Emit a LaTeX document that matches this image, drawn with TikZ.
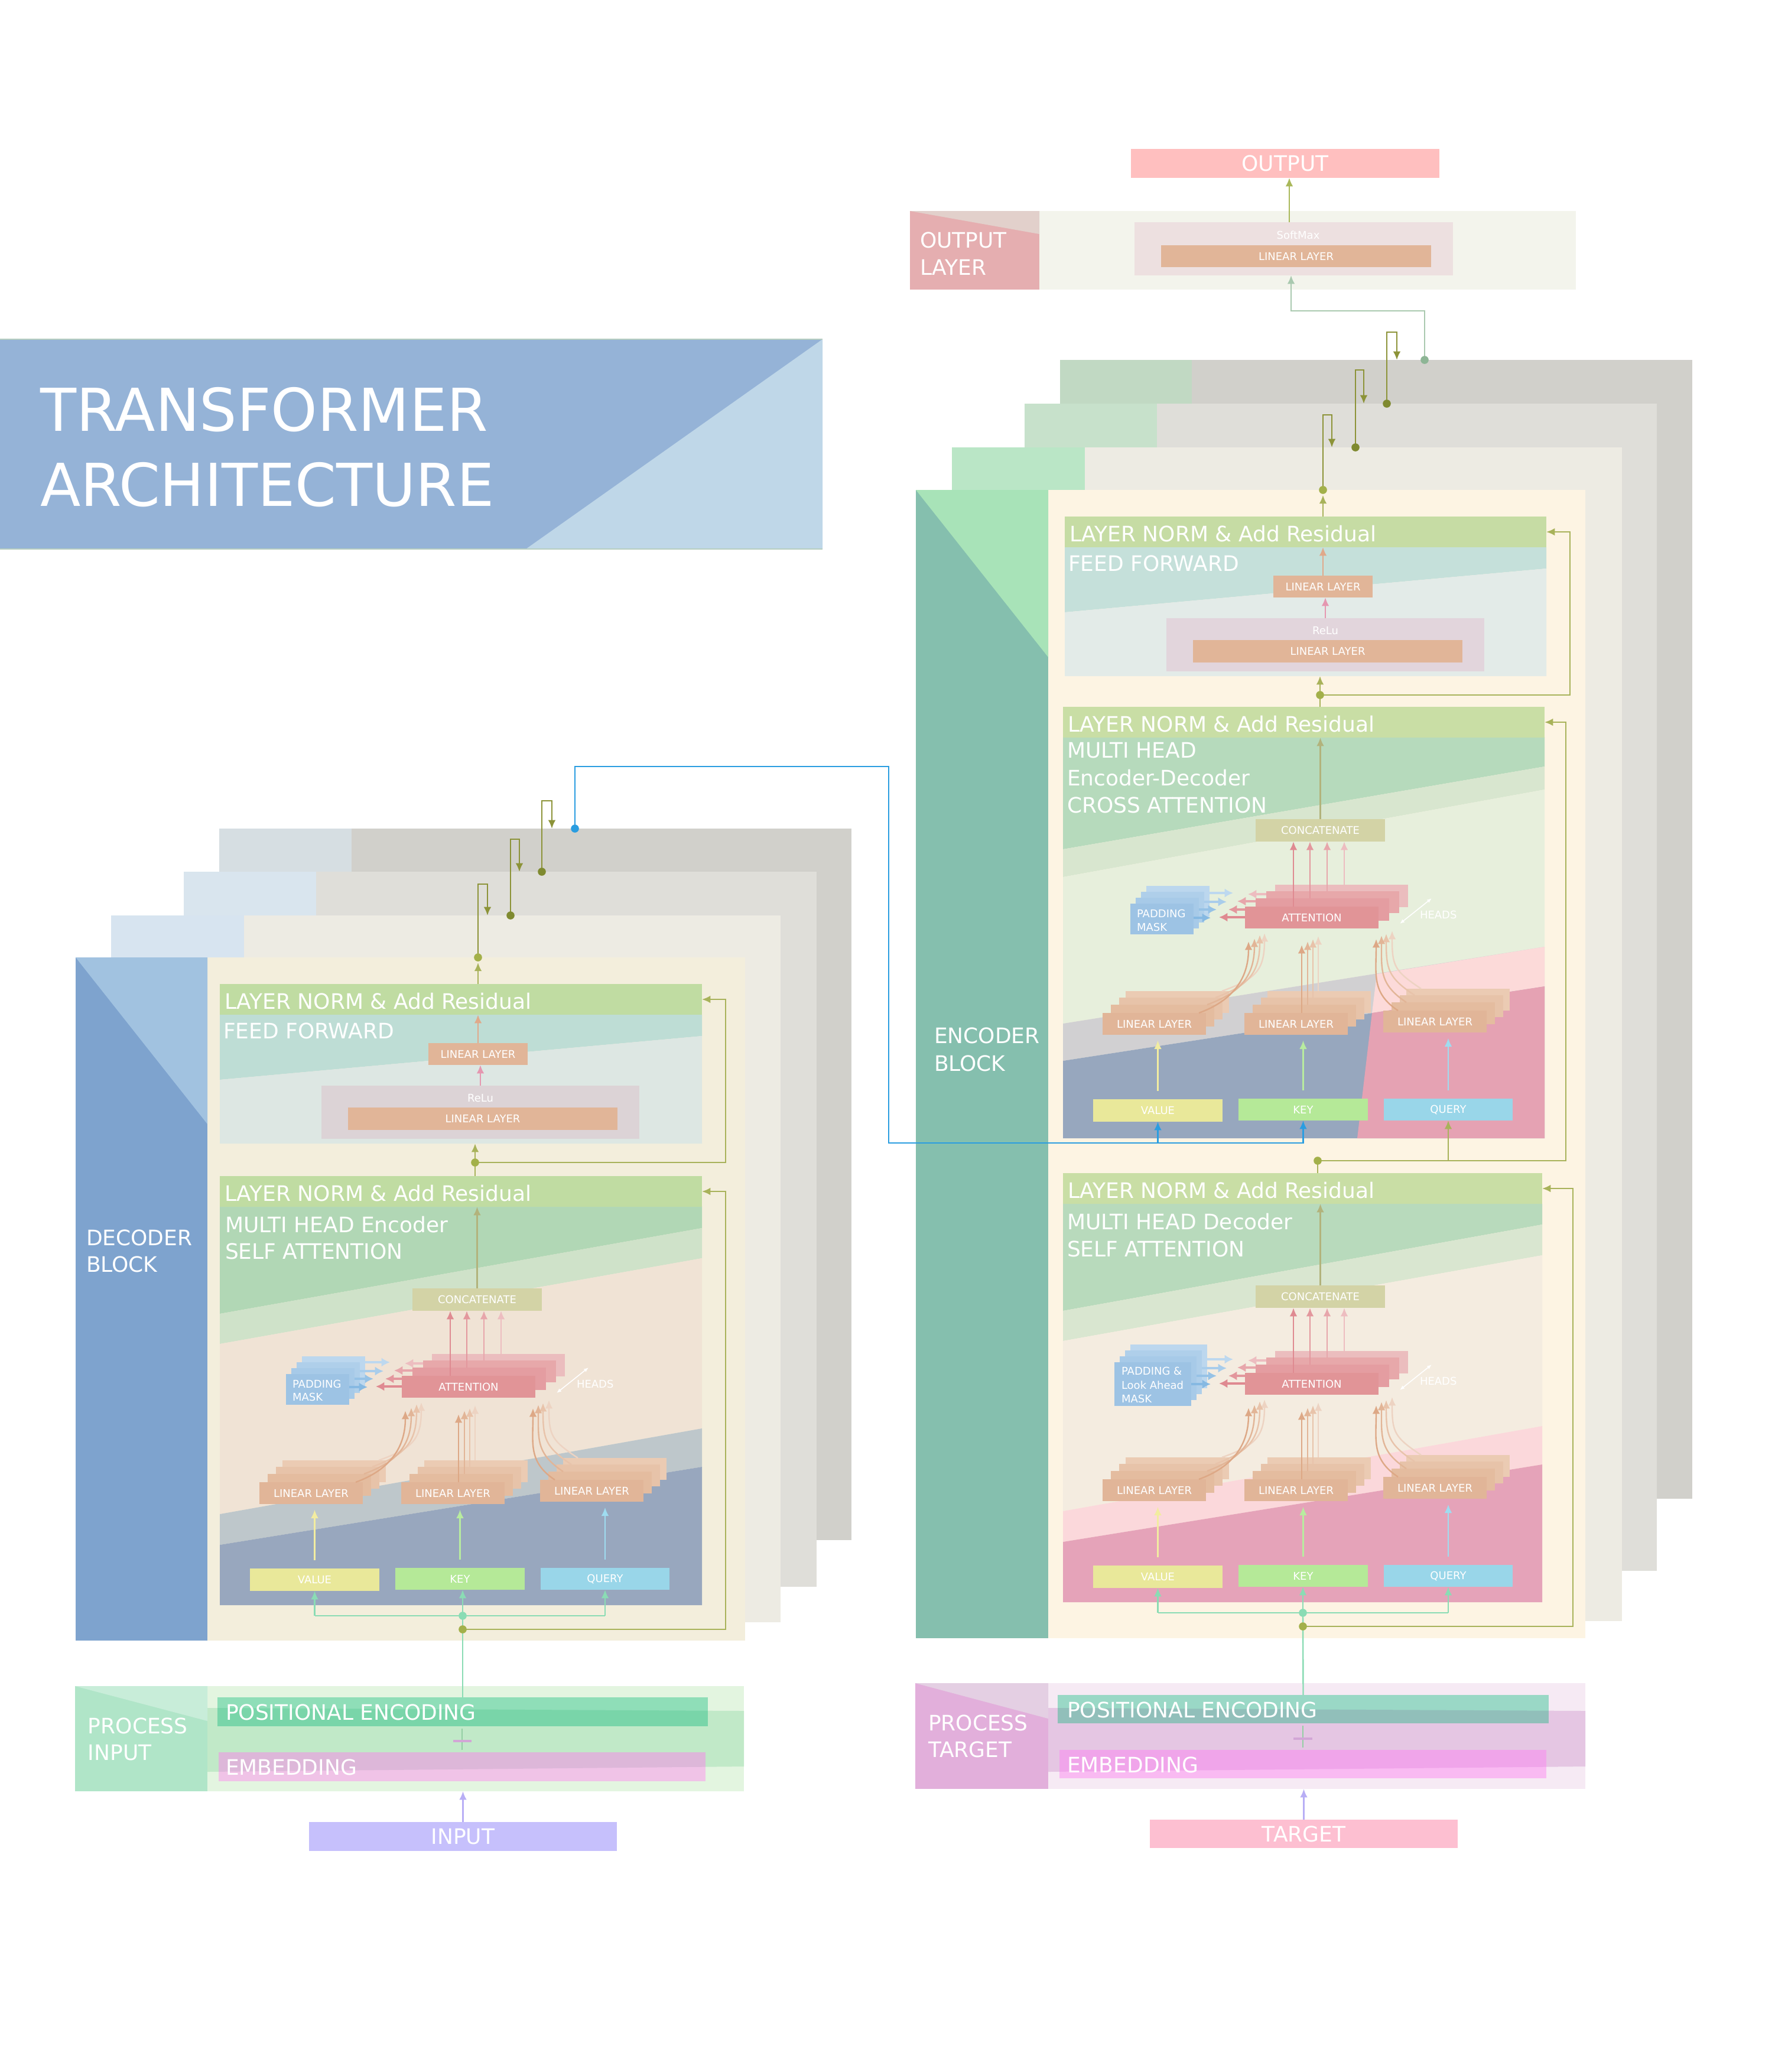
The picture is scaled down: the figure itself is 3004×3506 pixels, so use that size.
\documentclass[tikz,border=0pt]{standalone}
\usepackage{fontspec}
\setmainfont{DejaVu Sans}
\usetikzlibrary{arrows.meta}
\newcommand\pxu{0.25pt}
\newcommand\fbig{\fontsize{9}{11}\selectfont}
\newcommand\fsmall{\fontsize{4.5}{5.5}\selectfont}
\newcommand\ftitle{\fontsize{25}{30}\selectfont}
% colours
\definecolor{ctitleD}{HTML}{95B3D7}\definecolor{ctitleL}{HTML}{BFD7E8}\definecolor{ctitleLn}{HTML}{B7CEC0}
\definecolor{cout}{HTML}{FFBFBF}\definecolor{colbg}{HTML}{F3F4EC}\definecolor{colpk}{HTML}{E5AEB0}
\definecolor{colpkL}{HTML}{E2D0CB}\definecolor{csoft}{HTML}{EDE0E0}
\definecolor{clin0}{HTML}{E1B598}\definecolor{clin1}{HTML}{E4BC9F}\definecolor{clin2}{HTML}{E7C3A9}\definecolor{clin3}{HTML}{EBCBB3}
\definecolor{carr0}{HTML}{DDA886}\definecolor{carr1}{HTML}{E2B597}\definecolor{carr2}{HTML}{E8C3AA}\definecolor{carr3}{HTML}{EDD3C2}
\definecolor{catt0}{HTML}{E19497}\definecolor{catt1}{HTML}{E49DA1}\definecolor{catt2}{HTML}{E7A8AA}\definecolor{catt3}{HTML}{EBBDBE}
\definecolor{cra0}{HTML}{DF8A91}\definecolor{cra1}{HTML}{E3979D}\definecolor{cra2}{HTML}{E7A6AB}\definecolor{cra3}{HTML}{EDBDC0}
\definecolor{cmask0}{HTML}{9DC3E4}\definecolor{cmask1}{HTML}{A7CAE8}\definecolor{cmask2}{HTML}{AFCFEA}\definecolor{cmask3}{HTML}{BCD7EE}
\definecolor{cbl0}{HTML}{86B9E2}\definecolor{cbl1}{HTML}{96C2E6}\definecolor{cbl2}{HTML}{A9CDEB}\definecolor{cbl3}{HTML}{BDD8EF}
\definecolor{cval}{HTML}{E9E89A}\definecolor{ckey}{HTML}{B5E998}\definecolor{cqry}{HTML}{99D6E9}
\definecolor{cvalA}{HTML}{F2ECA0}\definecolor{ckeyA}{HTML}{B8EC9F}\definecolor{cqryA}{HTML}{9FDCF0}
\definecolor{cconcat}{HTML}{D3D3A6}\definecolor{cconA}{HTML}{B2B37C}\definecolor{cffo}{HTML}{E0A98A}\definecolor{cffp}{HTML}{E597B0}
\definecolor{ceLia}{HTML}{C1D9C3}\definecolor{ceLib}{HTML}{D1D0CB}\definecolor{ceLiia}{HTML}{C7E1CB}\definecolor{ceLiib}{HTML}{DFDED9}
\definecolor{ceLiiia}{HTML}{BAE6C6}\definecolor{ceLiiib}{HTML}{EDEBE3}\definecolor{ceteal}{HTML}{85BFAE}\definecolor{cetri}{HTML}{A8E3B8}
\definecolor{cecream}{HTML}{FDF4E3}
\definecolor{cdLia}{HTML}{D6DEE2}\definecolor{cdLib}{HTML}{D1D0CB}\definecolor{cdLiia}{HTML}{D9E5EE}\definecolor{cdLiib}{HTML}{DFDED9}
\definecolor{cdLiiia}{HTML}{D7E4F0}\definecolor{cdLiiib}{HTML}{EDEBE3}\definecolor{cdblue}{HTML}{7EA3CE}\definecolor{cdtri}{HTML}{A1C2E0}
\definecolor{cdcream}{HTML}{F3EEDC}
\definecolor{clnE}{HTML}{C6DCA4}\definecolor{clnEb}{HTML}{C9DEA5}\definecolor{clnD}{HTML}{C0DCA2}
\definecolor{ceffU}{HTML}{C5E0DA}\definecolor{ceffL}{HTML}{E3EBE8}\definecolor{ceRelu}{HTML}{E2D5DC}
\definecolor{cdffU}{HTML}{BEDDD5}\definecolor{cdffL}{HTML}{DDE7E3}\definecolor{cdRelu}{HTML}{DCD3D6}
\definecolor{ceig}{HTML}{B6DABC}\definecolor{ceil}{HTML}{D8E6CF}\definecolor{ceiw}{HTML}{E7EFDC}\definecolor{ceigrey}{HTML}{D1D0D2}
\definecolor{ceiblue}{HTML}{97A7BE}\definecolor{ceipl}{HTML}{FCDAD9}\definecolor{ceipd}{HTML}{E5A2B3}
\definecolor{ceiig}{HTML}{B8DABC}\definecolor{ceiil}{HTML}{D9E6D0}\definecolor{ceiib}{HTML}{F4ECE0}\definecolor{ceiipl}{HTML}{FBD8DB}
\definecolor{ceiipd}{HTML}{E5A3B9}
\definecolor{cdg}{HTML}{B1D7B5}\definecolor{cdl}{HTML}{CFE2C9}\definecolor{cdb}{HTML}{F0E3D5}\definecolor{cdgrey}{HTML}{BEC7CB}
\definecolor{cdbl}{HTML}{98A7BE}
\definecolor{colive}{HTML}{A8B25A}\definecolor{coliveDot}{HTML}{A3B04A}\definecolor{colD}{HTML}{8C9338}\definecolor{colDdot}{HTML}{7F8A30}
\definecolor{cgreen}{HTML}{8ADCB4}\definecolor{cblue}{HTML}{2A9DE0}\definecolor{clav}{HTML}{B8AEF5}\definecolor{cgreyL}{HTML}{A9C9AF}
\definecolor{cgreyDot}{HTML}{8DB595}\definecolor{coutA}{HTML}{A9B85A}
\definecolor{cpiBg}{HTML}{E3F5E0}\definecolor{cpiBand}{HTML}{C1E9C8}\definecolor{cpiPanel}{HTML}{B0E5C8}\definecolor{cpiTri}{HTML}{C8EDD9}
\definecolor{cpiPEo}{HTML}{8FDEB8}\definecolor{cpiPEi}{HTML}{79D5A9}\definecolor{cpiEMo}{HTML}{F0C3E7}\definecolor{cpiEMi}{HTML}{DDB7D9}
\definecolor{cinput}{HTML}{C6C0FC}
\definecolor{cptBg}{HTML}{F6EAF4}\definecolor{cptBand}{HTML}{E5C6E3}\definecolor{cptPanel}{HTML}{E2AFDB}\definecolor{cptTri}{HTML}{E4CFE3}
\definecolor{cptPEo}{HTML}{9AD8C6}\definecolor{cptPEi}{HTML}{91BFBA}\definecolor{cptEMo}{HTML}{F9BAF2}\definecolor{cptEMi}{HTML}{F0A5EA}
\definecolor{ctarget}{HTML}{FDBFD1}
\definecolor{cplusG}{HTML}{93CFA3}\definecolor{cplusP}{HTML}{D2A6D6}

\tikzset{
  rb/.style={draw=none,inner sep=0pt,outer sep=0pt,text=white},
  txt/.style={inner sep=0pt,outer sep=0pt,text=white,anchor=base west},
  lnk/.style={line width=0.6pt},
  conn/.style={line width=0.6pt,-{Latex[length=3.6pt,width=3.2pt]}},
  mk/.style={line width=1.1pt,-{Latex[length=3.6pt,width=3.8pt]}},
}

% box from corners: [font]{name}{fill}{x1}{y1}{x2}{y2}{text}
\newcommand\rbx[8][\fsmall]{\node[rb,fill=#3,font=#1,minimum width={((#6)-(#4))*\pxu},minimum height={((#7)-(#5))*\pxu}] (#2) at ({((#4)+(#6))/2},{((#5)+(#7))/2}) {#8};}

\newcommand\maskstack[5]{%
  \foreach \i/\yy/\tx in {3/315/288,2/330/277,1/343/260,0/357/250}{%
    \pgfmathsetmacro\mxa{#2+9*\i}%
    \pgfmathsetmacro\mya{#3-10*\i}%
    \rbx{#1mk\i}{cmask\i}{\mxa}{\mya}{\mxa+#4}{\mya+#5}{}%
    \coordinate (#1mb\i) at (\mxa+#4,\yy);%
    \coordinate (#1mt\i) at (\tx,\yy);%
    \draw[mk,draw=cbl\i] (#1mb\i) -- (#1mt\i);%
  }}

\newcommand\attncore[3]{%
  \rbx{#1ln}{#3}{0}{0}{#2}{52}{}
  \node[txt,font=\fbig] (#1lnt) at (8,42) {LAYER NORM \& Add Residual};
  \rbx{#1cc}{cconcat}{326}{190}{545}{228}{CONCATENATE}
  \draw[conn,draw=cconA] (#1cc.north) -- (#1cc.north |- #1ln.south);
  \foreach \i/\xa/\ya/\xb/\yb/\ux/\ry/\rt in {3/359/301/584/339/476/317/313,2/344/312/569/349/447/329/295,1/326/324/552/362/418/343/280,0/308/338/534/375/390/356/264}{%
    \rbx{#1at\i}{catt\i}{\xa}{\ya}{\xb}{\yb}{}
    \coordinate (#1au\i) at (\ux,\ya);
    \draw[conn,draw=cra\i] (#1au\i) -- (#1au\i |- #1cc.south);
    \coordinate (#1ar\i) at (\xa,\ry);
    \coordinate (#1arT\i) at (\rt,\ry);
    \draw[mk,draw=cra\i] (#1ar\i) -- (#1arT\i);
  }
  \node[rb,font=\fsmall] (#1att) at (#1at0) {ATTENTION};
  \foreach \i/\dx/\dy/\lx/\ly/\mx/\my/\qx/\qy in {3/39/37/341/383/432/388/557/379,2/28/26/333/386/423/393/547/384,1/14/14/324/392/414/397/539/387,0/0/0/314/397/404/403/530/393}{%
    \rbx{#1lv\i}{clin\i}{67+\dx}{518-\dy}{242+\dx}{555-\dy}{}
    \rbx{#1lk\i}{clin\i}{307+\dx}{518-\dy}{482+\dx}{555-\dy}{}
    \rbx{#1lq\i}{clin\i}{542+\dx}{514-\dy}{717+\dx}{551-\dy}{}
    \coordinate (#1cv\i) at (230+\dx,518-\dy);
    \coordinate (#1cvT\i) at (\lx,\ly);
    \draw[conn,draw=carr\i] (#1cv\i) .. controls +(55,-20) and +(0,65) .. (#1cvT\i);
    \coordinate (#1ck\i) at (\mx,518-\dy);
    \coordinate (#1ckT\i) at (\mx,\my);
    \draw[conn,draw=carr\i] (#1ck\i) -- (#1ckT\i);
    \coordinate (#1cq\i) at (567+\dx,514-\dy);
    \coordinate (#1cqT\i) at (\qx,\qy);
    \draw[conn,draw=carr\i] (#1cq\i) .. controls +(-45,-30) and +(0,60) .. (#1cqT\i);
  }
  \node[rb,font=\fsmall] (#1lvt) at (#1lv0) {LINEAR LAYER};
  \node[rb,font=\fsmall] (#1lkt) at (#1lk0) {LINEAR LAYER};
  \node[rb,font=\fsmall] (#1lqt) at (#1lq0) {LINEAR LAYER};
  \rbx{#1v}{cval}{51}{664}{270}{702}{VALUE}
  \rbx{#1k}{ckey}{297}{663}{516}{700}{KEY}
  \rbx{#1q}{cqry}{543}{663}{761}{700}{QUERY}
  \draw[conn,draw=cvalA,shorten <=3.5pt,shorten >=2.4pt] (#1v.north) -- (#1v.north |- #1lv0.south);
  \draw[conn,draw=ckeyA,shorten <=3.5pt,shorten >=2.4pt] (#1k.north) -- (#1k.north |- #1lk0.south);
  \draw[conn,draw=cqryA,shorten <=3.5pt,shorten >=2.4pt] (#1q.north) -- (#1q.north |- #1lq0.south);
  \coordinate (#1hA) at (570,367);
  \coordinate (#1hB) at (624,324);
  \draw[white,line width=0.4pt,{Latex[length=2pt,width=1.6pt]}-{Latex[length=2pt,width=1.6pt]}] (#1hA) -- (#1hB);
  \node[txt,font=\fsmall,anchor=west] (#1hd) at (604,352) {HEADS};
}

\newcommand\ffcore[6]{%
  \fill[#4] (0,52) -- (#2,52) -- (#2,88) -- (0,162) -- cycle;
  \fill[#5] (0,162) -- (#2,88) -- (#2,270) -- (0,270) -- cycle;
  \rbx{#1ln}{#3}{0}{0}{#2}{52}{}
  \node[txt,font=\fbig] (#1lnt) at (8,42) {LAYER NORM \& Add Residual};
  \node[txt,font=\fbig] (#1fft) at (6,92) {FEED FORWARD};
  \rbx{#1lb}{clin0}{353}{100}{521}{137}{LINEAR LAYER}
  \rbx{#1re}{#6}{172}{172}{710}{262}{}
  \node[rb,font=\fsmall] (#1ret) at (441,193) {ReLu};
  \rbx{#1la}{clin0}{217}{209}{673}{247}{LINEAR LAYER}
  \draw[conn,draw=cffo] (#1lb.north) -- (#1lb.north |- #1ln.south);
  \draw[conn,draw=cffp] (#1re.north) -- (#1re.north |- #1lb.south);
  \coordinate (#1bot) at (436,270);
}

\begin{document}
\begin{tikzpicture}[x=0.25pt,y=-0.25pt]
\useasboundingbox (0,0) rectangle (3004,3506);
\fill[white] (0,0) rectangle (3004,3506);

% ---------------- title
\rbx{titlebox}{ctitleD}{0}{574}{1392}{929}{}
\fill[ctitleL] (1392,574) -- (1392,929) -- (890,929) -- cycle;
\draw[ctitleLn,line width=0.5pt] (0,574) -- (1392,574) (0,929) -- (1392,929);
\node[txt,font=\ftitle] (titleA) at (68,729) {TRANSFORMER};
\node[txt,font=\ftitle] (titleB) at (68,856) {ARCHITECTURE};

% ---------------- output layer
\rbx{olbg}{colbg}{1540}{357}{2667}{490}{}
\rbx{olpanel}{colpk}{1540}{357}{1759}{490}{}
\fill[colpkL] (1540,357) -- (1759,357) -- (1759,396) -- cycle;
\node[txt,font=\fbig] (olA) at (1557,419) {OUTPUT};
\node[txt,font=\fbig] (olB) at (1557,465) {LAYER};
\rbx{soft}{csoft}{1920}{376}{2459}{466}{}
\node[rb,font=\fsmall] (softt) at (2197,398) {SoftMax};
\rbx{olin}{clin0}{1965}{415}{2422}{452}{LINEAR LAYER}
\rbx[\fbig]{outb}{cout}{1914}{252}{2436}{301}{OUTPUT}
\coordinate (oa) at (2182,376);
\draw[conn,draw=coutA] (oa) -- (oa |- outb.south);

% ---------------- encoder stack
\rbx{eLi}{ceLib}{1794}{609}{2864}{2536}{}
\rbx{eLil}{ceLia}{1794}{609}{2017}{2536}{}
\rbx{eLii}{ceLiib}{1734}{683}{2804}{2658}{}
\rbx{eLiil}{ceLiia}{1734}{683}{1958}{2658}{}
\rbx{eLiii}{ceLiiib}{1611}{757}{2745}{2743}{}
\rbx{eLiiil}{ceLiiia}{1611}{757}{1836}{2743}{}
\rbx{eF}{cecream}{1550}{829}{2683}{2772}{}
\rbx{eFl}{ceteal}{1550}{829}{1774}{2772}{}
\fill[cetri] (1550,829) -- (1774,829) -- (1774,1112) -- cycle;
\node[txt,font=\fbig] (encA) at (1581,1765) {ENCODER};
\node[txt,font=\fbig] (encB) at (1581,1812) {BLOCK};

\begin{scope}[shift={(1802,874)}]
  \ffcore{eff}{815}{clnE}{ceffU}{ceffL}{ceRelu}
\end{scope}

% cross attention bands
\fill[ceig] (1799,1247) -- (2614,1247) -- (2614,1297) -- (1799,1437) -- cycle;
\fill[ceil] (1799,1437) -- (2614,1297) -- (2614,1336) -- (1799,1484) -- cycle;
\fill[ceiw] (1799,1484) -- (2614,1336) -- (2614,1602) -- (1799,1732) -- cycle;
\fill[ceigrey] (1799,1732) -- (2614,1602) -- (2614,1669) -- (1799,1795) -- cycle;
\fill[ceiblue] (1799,1795) -- (2614,1669) -- (2614,1926) -- (1799,1926) -- cycle;
\fill[ceipl] (2330,1648) -- (2614,1602) -- (2614,1669) -- (2322,1714) -- cycle;
\fill[ceipd] (2322,1714) -- (2614,1669) -- (2614,1926) -- (2297,1926) -- cycle;
\begin{scope}[shift={(1799,1196)}]
  \attncore{ecr}{815}{clnEb}
  \maskstack{ecr}{114}{333}{107}{52}
  \node[txt,font=\fsmall] (ecrmA) at (125,356) {PADDING};
  \node[txt,font=\fsmall] (ecrmB) at (125,379) {MASK};
  \node[txt,font=\fbig] (ecrhA) at (7,86) {MULTI HEAD};
  \node[txt,font=\fbig] (ecrhB) at (7,133) {Encoder-Decoder};
  \node[txt,font=\fbig] (ecrhC) at (7,179) {CROSS ATTENTION};
\end{scope}

% encoder self attention bands
\fill[ceiig] (1799,2037) -- (2610,2037) -- (2610,2072) -- (1799,2218) -- cycle;
\fill[ceiil] (1799,2218) -- (2610,2072) -- (2610,2124) -- (1799,2269) -- cycle;
\fill[ceiib] (1799,2269) -- (2610,2124) -- (2610,2413) -- (1799,2557) -- cycle;
\fill[ceiipl] (1799,2557) -- (2610,2413) -- (2610,2478) -- (1799,2609) -- cycle;
\fill[ceiipd] (1799,2609) -- (2610,2478) -- (2610,2711) -- (1799,2711) -- cycle;
\begin{scope}[shift={(1799,1985)}]
  \attncore{esa}{811}{clnEb}
  \maskstack{esa}{87}{320}{130}{74}
  \node[txt,font=\fsmall] (esamA) at (99,341) {PADDING \&};
  \node[txt,font=\fsmall] (esamB) at (99,365) {Look Ahead};
  \node[txt,font=\fsmall] (esamC) at (99,388) {MASK};
  \node[txt,font=\fbig] (esahA) at (7,95) {MULTI HEAD Decoder};
  \node[txt,font=\fbig] (esahB) at (7,141) {SELF ATTENTION};
\end{scope}

% ---------------- decoder stack
\rbx{dLi}{cdLib}{371}{1402}{1441}{2606}{}
\rbx{dLil}{cdLia}{371}{1402}{595}{2606}{}
\rbx{dLii}{cdLiib}{311}{1475}{1382}{2685}{}
\rbx{dLiil}{cdLiia}{311}{1475}{535}{2685}{}
\rbx{dLiii}{cdLiiib}{188}{1549}{1321}{2745}{}
\rbx{dLiiil}{cdLiiia}{188}{1549}{413}{2745}{}
\rbx{dF}{cdcream}{128}{1620}{1261}{2776}{}
\rbx{dFl}{cdblue}{128}{1620}{351}{2776}{}
\fill[cdtri] (128,1620) -- (351,1620) -- (351,1902) -- cycle;
\node[txt,font=\fbig] (decA) at (146,2107) {DECODER};
\node[txt,font=\fbig] (decB) at (146,2152) {BLOCK};

\begin{scope}[shift={(372,1665)}]
  \ffcore{dff}{816}{clnD}{cdffU}{cdffL}{cdRelu}
\end{scope}

\fill[cdg] (372,2041) -- (1188,2041) -- (1188,2078) -- (372,2223) -- cycle;
\fill[cdl] (372,2223) -- (1188,2078) -- (1188,2129) -- (372,2274) -- cycle;
\fill[cdb] (372,2274) -- (1188,2129) -- (1188,2417) -- (372,2562) -- cycle;
\fill[cdgrey] (372,2562) -- (1188,2417) -- (1188,2482) -- (372,2614) -- cycle;
\fill[cdbl] (372,2614) -- (1188,2482) -- (1188,2716) -- (372,2716) -- cycle;
\begin{scope}[shift={(372,1990)}]
  \attncore{dsa}{816}{clnD}
  \maskstack{dsa}{112}{335}{107}{52}
  \node[txt,font=\fsmall] (dsamA) at (123,358) {PADDING};
  \node[txt,font=\fsmall] (dsamB) at (123,380) {MASK};
  \node[txt,font=\fbig] (dsahA) at (9,95) {MULTI HEAD Encoder};
  \node[txt,font=\fbig] (dsahB) at (9,140) {SELF ATTENTION};
\end{scope}

% ---------------- process input
\rbx{pibg}{cpiBg}{127}{2853}{1259}{3031}{}
\fill[cpiBand] (351,2890) -- (1259,2895) -- (1259,2989) -- (351,2998) -- cycle;
\rbx{pipanel}{cpiPanel}{127}{2853}{351}{3031}{}
\fill[cpiTri] (127,2853) -- (351,2853) -- (351,2912) -- cycle;
\node[txt,font=\fbig] (piA) at (149,2933) {PROCESS};
\node[txt,font=\fbig] (piB) at (149,2978) {INPUT};
\rbx{pipe}{cpiPEo}{368}{2872}{1198}{2921}{}
\rbx{piem}{cpiEMo}{370}{2965}{1194}{3014}{}
\begin{scope}
  \clip (351,2890) -- (1259,2895) -- (1259,2989) -- (351,2998) -- cycle;
  \fill[cpiPEi] (368,2872) rectangle (1198,2921);
  \fill[cpiEMi] (370,2965) rectangle (1194,3014);
\end{scope}
\node[txt,font=\fbig] (pipet) at (382,2910) {POSITIONAL ENCODING};
\node[txt,font=\fbig] (piemt) at (382,3003) {EMBEDDING};
\draw[cplusG,line width=0.5pt,shorten <=1pt,shorten >=1pt] (piem.north -| 782,0) -- (pipe.south -| 782,0);
\draw[cplusP,line width=1pt] (767,2946) -- (798,2946);
\rbx[\fbig]{inb}{cinput}{523}{3083}{1044}{3132}{INPUT}
\draw[conn,draw=clav] (inb.north) -- (inb.north |- pibg.south);

% ---------------- process target
\rbx{ptbg}{cptBg}{1549}{2848}{2683}{3027}{}
\fill[cptBand] (1774,2890) -- (2683,2895) -- (2683,2989) -- (1774,2998) -- cycle;
\rbx{ptpanel}{cptPanel}{1549}{2848}{1774}{3027}{}
\fill[cptTri] (1549,2848) -- (1774,2848) -- (1774,2908) -- cycle;
\node[txt,font=\fbig] (ptA) at (1571,2928) {PROCESS};
\node[txt,font=\fbig] (ptB) at (1571,2973) {TARGET};
\rbx{ptpe}{cptPEo}{1790}{2868}{2621}{2916}{}
\rbx{ptem}{cptEMo}{1793}{2961}{2617}{3009}{}
\begin{scope}
  \clip (1774,2890) -- (2683,2895) -- (2683,2989) -- (1774,2998) -- cycle;
  \fill[cptPEi] (1790,2868) rectangle (2621,2916);
  \fill[cptEMi] (1793,2961) rectangle (2617,3009);
\end{scope}
\node[txt,font=\fbig] (ptpet) at (1806,2906) {POSITIONAL ENCODING};
\node[txt,font=\fbig] (ptemt) at (1806,2999) {EMBEDDING};
\draw[cplusG,line width=0.5pt,shorten <=1pt,shorten >=1pt] (ptem.north -| 2205,0) -- (ptpe.south -| 2205,0);
\draw[cplusP,line width=1pt] (2189,2942) -- (2221,2942);
\rbx[\fbig]{tgb}{ctarget}{1946}{3079}{2467}{3127}{TARGET}
\draw[conn,draw=clav] (tgb.north) -- (tgb.north |- ptbg.south);

% ---------------- connectors: encoder
\coordinate (eti) at (2239,829);
\coordinate (eki) at (2254,702);
\coordinate (etii) at (2294,757);
\coordinate (ekii) at (2308,626);
\coordinate (etiii) at (2347,683);
\coordinate (ekiii) at (2364,562);
\coordinate (etiv) at (2411,609);
\coordinate (ekiv) at (2185,526);
\draw[conn,draw=colive,shorten >=2.2pt] (eti |- effln.north) -- (eti);
\draw[conn,draw=colD] (eti) |- (eki) -- (eki |- eLiii.north);
\draw[conn,draw=colD] (etii) |- (ekii) -- (ekii |- eLii.north);
\draw[conn,draw=colD] (etiii) |- (ekiii) -- (ekiii |- eLi.north);
\draw[conn,draw=cgreyL] (etiv) |- (ekiv) -- (ekiv |- soft.south);

\coordinate (ed) at (2234,1176);
\coordinate (eresA) at (2657,900);
\draw[lnk,draw=colive] (ed |- ecrln.north) -- (ed);
\draw[conn,draw=colive] (ed) -- (ed |- effbot);
\draw[conn,draw=colive] (ed) -| (eresA) -- (eresA -| effln.east);

\coordinate (ec) at (2230,1964);
\coordinate (eresB) at (2650,1222);
\draw[lnk,draw=colive] (ec |- esaln.north) -- (ec);
\draw[conn,draw=colive] (ec) -| (ecrq.south);
\draw[conn,draw=colive] (ec) -| (eresB) -- (eresB -| ecrln.east);

\coordinate (egd) at (2205,2729);
\coordinate (eod) at (2205,2752);
\coordinate (eresC) at (2662,2011);
\draw[lnk,draw=cgreen] (ptpe.north) -- (egd);
\draw[lnk,draw=cgreen] (esav.south |- egd) -- (esaq.south |- egd);
\draw[conn,draw=cgreen] (esav.south |- egd) -- (esav.south);
\draw[conn,draw=cgreen] (egd) -- (egd |- esak.south);
\draw[conn,draw=cgreen] (esaq.south |- egd) -- (esaq.south);
\draw[conn,draw=colive] (eod) -| (eresC) -- (eresC -| esaln.east);

% ---------------- connectors: decoder
\coordinate (dti) at (809,1620);
\coordinate (dki) at (825,1496);
\coordinate (dtii) at (864,1549);
\coordinate (dkii) at (879,1420);
\coordinate (dtiii) at (917,1475);
\coordinate (dkiii) at (934,1355);
\coordinate (dtiv) at (973,1402);
\coordinate (dbA) at (1504,1297);
\coordinate (dbB) at (1504,1934);
\draw[conn,draw=colive,shorten >=2.2pt] (dti |- dffln.north) -- (dti);
\draw[conn,draw=colD] (dti) |- (dki) -- (dki |- dLiii.north);
\draw[conn,draw=colD] (dtii) |- (dkii) -- (dkii |- dLii.north);
\draw[conn,draw=colD] (dtiii) |- (dkiii) -- (dkiii |- dLi.north);
\draw[conn,draw=cblue] (dtiv) |- (dbA) |- (ecrk.south |- dbB) -- (ecrk.south);
\draw[conn,draw=cblue] (ecrv.south |- dbB) -- (ecrv.south);

\coordinate (dd) at (804,1967);
\coordinate (dresA) at (1228,1691);
\draw[lnk,draw=colive] (dd |- dsaln.north) -- (dd);
\draw[conn,draw=colive] (dd) -- (dd |- dffbot);
\draw[conn,draw=colive] (dd) -| (dresA) -- (dresA -| dffln.east);

\coordinate (dgd) at (783,2734);
\coordinate (dod) at (783,2757);
\coordinate (dresB) at (1228,2016);
\draw[lnk,draw=cgreen] (pipe.north) -- (dgd);
\draw[lnk,draw=cgreen] (dsav.south |- dgd) -- (dsaq.south |- dgd);
\draw[conn,draw=cgreen] (dsav.south |- dgd) -- (dsav.south);
\draw[conn,draw=cgreen] (dgd) -- (dgd |- dsak.south);
\draw[conn,draw=cgreen] (dsaq.south |- dgd) -- (dsaq.south);
\draw[conn,draw=colive] (dod) -| (dresB) -- (dresB -| dsaln.east);

% ---------------- dots
\fill[coliveDot] (eti) circle[radius=1.7pt] (ed) circle[radius=1.7pt] (ec) circle[radius=1.7pt] (eod) circle[radius=1.7pt];
\fill[colDdot] (etii) circle[radius=1.7pt] (etiii) circle[radius=1.7pt];
\fill[cgreyDot] (etiv) circle[radius=1.7pt];
\fill[cgreen] (egd) circle[radius=1.7pt] (dgd) circle[radius=1.7pt];
\fill[coliveDot] (dti) circle[radius=1.7pt] (dd) circle[radius=1.7pt] (dod) circle[radius=1.7pt];
\fill[colDdot] (dtii) circle[radius=1.7pt] (dtiii) circle[radius=1.7pt];
\fill[cblue] (dtiv) circle[radius=1.7pt];
\end{tikzpicture}
\end{document}
